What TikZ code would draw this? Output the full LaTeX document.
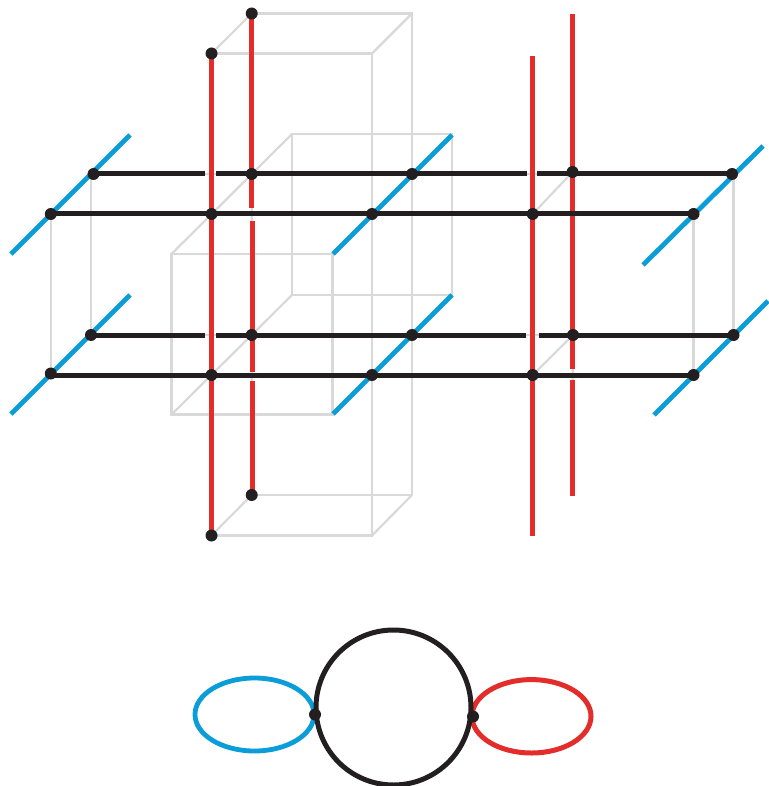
\documentclass[tikz,border=0pt]{standalone}
\usetikzlibrary{backgrounds}
\definecolor{lred}{HTML}{E32D2B}
\definecolor{lblue}{HTML}{0B9DD8}
\definecolor{lblack}{HTML}{231F20}
\definecolor{lgray}{HTML}{D9D9D9}
\pgfdeclarelayer{glayer}\pgfdeclarelayer{blayer}\pgfdeclarelayer{klayer}\pgfdeclarelayer{rlayer}
\pgfsetlayers{glayer,blayer,rlayer,klayer,main}
\tikzset{
  dot/.style={circle,fill=lblack,draw=none,minimum size=12pt,inner sep=0pt,outer sep=0pt},
  gline/.style={draw=lgray,line width=2.2pt},
  bline/.style={draw=lblue,line width=4.8pt},
  kline/.style={draw=lblack,line width=5pt},
  rline/.style={draw=lred,line width=5pt}
}
\begin{document}
\begin{tikzpicture}[x=1pt,y=-1pt]
\useasboundingbox (0,0) rectangle (768,786);
% vertices
\node[dot] (a1) at (93.5,174) {};
\node[dot] (a2) at (251.7,174) {};
\node[dot] (a3) at (412,174) {};
\node[dot] (a4) at (572.5,172) {};
\node[dot] (a5) at (732,174) {};
\node[dot] (b1) at (50.8,214) {};
\node[dot] (b2) at (211.5,214) {};
\node[dot] (b3) at (372,214) {};
\node[dot] (b4) at (532.7,214) {};
\node[dot] (b5) at (693.5,214) {};
\node[dot] (c1) at (91,335) {};
\node[dot] (c2) at (251.7,335) {};
\node[dot] (c3) at (412,335) {};
\node[dot] (c4) at (573,335) {};
\node[dot] (c5) at (733.5,335) {};
\node[dot] (d1) at (50.8,373.5) {};
\node[dot] (d2) at (211.5,375) {};
\node[dot] (d3) at (372,375) {};
\node[dot] (d4) at (532.7,375) {};
\node[dot] (d5) at (693.5,375) {};
\node[dot] (t1) at (211.5,53.5) {};
\node[dot] (t2) at (251.7,13.5) {};
\node[dot] (u1) at (211.5,535.5) {};
\node[dot] (u2) at (251.7,495) {};
\node[dot] (pl) at (315,714.5) {};
\node[dot] (pr) at (473,716.5) {};
% free ends and cube corners
\coordinate (tb) at (372,53.5);
\coordinate (tc) at (412,13.5);
\coordinate (ub) at (372,535.5);
\coordinate (uc) at (412,495);
\coordinate (f1) at (171.5,254);
\coordinate (f2) at (332.5,254);
\coordinate (f3) at (332.5,414.5);
\coordinate (f4) at (171.5,414.5);
\coordinate (k1) at (292,134);
\coordinate (k2) at (452,134);
\coordinate (k3) at (452,295);
\coordinate (k4) at (292,295);
\coordinate (v1) at (91,174);
\coordinate (v2) at (733.5,174);
\begin{pgfonlayer}{glayer}
  \draw[gline] (t1.center) -- (tb) -- (ub) -- (u1.center) -- cycle;
  \draw[gline] (t2.center) -- (tc) -- (uc) -- (u2.center) -- cycle;
  \draw[gline] (t1.center) -- (t2.center) (tb) -- (tc) (ub) -- (uc) (u1.center) -- (u2.center);
  \draw[gline] (f1) -- (f2) -- (f3) -- (f4) -- cycle;
  \draw[gline] (k1) -- (k2) -- (k3) -- (k4) -- cycle;
  \draw[gline] (f1) -- (k1) (f4) -- (k4);
  \draw[gline] (b1.center) -- (d1.center) (v1) -- (c1.center);
  \draw[gline] (b5.center) -- (d5.center) (v2) -- (c5.center);
  \draw[gline] (b4.center) -- (a4.center) (d4.center) -- (c4.center);
  \draw[gline] (a1.center) -- (a5.center) (c1.center) -- (c5.center);
  \draw[gline] (t2.center) -- (u2.center) (a4.center) -- (573,495);
\end{pgfonlayer}
\begin{pgfonlayer}{blayer}
  \draw[bline] (11,254) coordinate (e1) -- (130,135) coordinate (e2);
  \draw[bline] (11,414) coordinate (e3) -- (130,295) coordinate (e4);
  \draw[bline] (333,254) coordinate (e5) -- (452,135) coordinate (e6);
  \draw[bline] (333,414) coordinate (e7) -- (452,295) coordinate (e8);
  \draw[bline] (643,265) coordinate (e9) -- (763,146) coordinate (e10);
  \draw[bline] (654,415) coordinate (e11) -- (768,301) coordinate (e12);
  \draw[bline] (254.5,714.5) ellipse [x radius=59.5,y radius=36.5];
\end{pgfonlayer}
\begin{pgfonlayer}{rlayer}
  \draw[rline] (t1.center) -- (u1.center);
  \draw[rline] (t2.center) -- (251.7,208) coordinate (g1);
  \draw[rline] (252,221) coordinate (g2) -- (252,372) coordinate (g3);
  \draw[rline] (252,381) coordinate (g4) -- (252,495) coordinate (g11);
  \draw[rline] (532.7,56) coordinate (g5) -- (532.7,536) coordinate (g6);
  \draw[rline] (572.8,14) coordinate (g7) -- (572.8,369) coordinate (g8);
  \draw[rline] (572.8,380) coordinate (g9) -- (572.8,495.5) coordinate (g10);
  \draw[rline] (531.5,716.3) ellipse [x radius=59.5,y radius=36.7];
\end{pgfonlayer}
\begin{pgfonlayer}{klayer}
  \draw[kline] (a1.center) -- (205,174) coordinate (h1);
  \draw[kline] (216,174) coordinate (h2) -- (527,174) coordinate (h3);
  \draw[kline] (537,174) coordinate (h4) -- (a5.center);
  \draw[kline] (b1.center) -- (b5.center);
  \draw[kline] (c1.center) -- (205,335) coordinate (h5);
  \draw[kline] (216,335) coordinate (h6) -- (526,335) coordinate (h7);
  \draw[kline] (539,335) coordinate (h8) -- (c5.center);
  \draw[kline] (50.8,375) coordinate (h9) -- (d5.center);
  \draw[kline] (393.5,707.5) circle [radius=77.5];
\end{pgfonlayer}
\end{tikzpicture}
\end{document}
